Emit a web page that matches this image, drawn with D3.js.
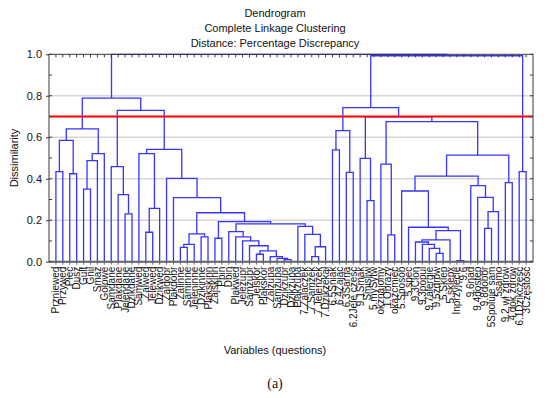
<!DOCTYPE html>
<html><head><meta charset="utf-8">
<script src="https://cdn.jsdelivr.net/npm/d3@7"></script>
<style>body{margin:0;background:#fff}svg{display:block}</style>
</head><body>
<script>
// ---------- data ----------
const titleLines = ["Dendrogram", "Complete Linkage Clustering", "Distance: Percentage Discrepancy"];
const xAxisTitle = "Variables (questions)";
const yAxisTitle = "Dissimilarity";
const panelLabel = "(a)";
const yTicks = [0, 0.2, 0.4, 0.6, 0.8, 1.0];
const yMinorTicks = [0.1, 0.3, 0.5, 0.7, 0.9];
const cutHeight = 0.7;

const leafLabels = [
  "Przniewed","Przywed","Płeć","Dusz","Gult","Gnil","Smaż","Golowe",
  "Samdane","Plakdane","Jeleńdane","Dzikdane","Samwed","Zalwed","Jelewed","Dzikwed",
  "Zaldobr","Plakdobr","Zalinne","Saminne","Jeleninne","Dzikinne","Plakskinn","Zajskinn",
  "Pbin","Dbin","Plakwed","Jeleżupr","Samżupr","Jelskór","Plakskór","Zalzupa",
  "Samzupa","Dzikżupr","Dzikzupa","Plakzupa","7.Zalaczek","7.Samzek","7.Jeleńzek","7.Dzikzekał",
  "6.5Śniak","6.4Zając","6.3Sarna","6.2Jele cześć","9.1Smak","Smisliw","5.mySytw","okznajomy",
  "1.Obrazy","okazcmiec","5.Sposób","5.spec","9.3Clon","9.3popul","9.7alergie","9.5zdrow",
  "5.Sklep","5.sklepx","Inprzyjęcie","9.6","9.6nad","9.4dostęp","9.8dobór","5Spoluje sam",
  "5samo","9.2 wł zdrow","4.dok zdrow","6.1Dzikczęść","3Częstość"
];

// merges: [left, right, height]; numbers = leaf index, "mK" = K-th merge
const merges = [
  [0, 1, 0.434], [2, 3, 0.424], ["m0", "m1", 0.585], [4, 5, 0.350],
  ["m3", 6, 0.487], ["m4", 7, 0.521], ["m2", "m5", 0.640], [10, 11, 0.231],
  [9, "m7", 0.323], [8, "m8", 0.458], [13, 14, 0.142], ["m10", 15, 0.257],
  [12, "m11", 0.521], [18, 19, 0.069], ["m13", 20, 0.084], [21, 22, 0.120],
  ["m14", "m15", 0.134], [23, 24, 0.113], [33, 34, 0.010], [32, "m18", 0.016],
  [31, "m19", 0.024], [29, 30, 0.036], ["m21", "m20", 0.052], [28, "m22", 0.077],
  [27, "m23", 0.100], [26, "m24", 0.120], [25, "m25", 0.145], [37, 38, 0.024],
  ["m27", 39, 0.072], [36, "m28", 0.132], [35, "m29", 0.170], ["m26", "m30", 0.182],
  ["m17", "m31", 0.193], ["m16", "m32", 0.236], [17, "m33", 0.309], [16, "m34", 0.402],
  ["m12", "m35", 0.542], ["m9", "m36", 0.730], ["m6", "m37", 0.789],
  [40, 41, 0.539], [42, 43, 0.431], ["m39", "m40", 0.632], [45, 46, 0.294],
  [44, "m42", 0.498], [48, 49, 0.129], [47, "m44", 0.470], [55, 56, 0.040],
  [54, "m46", 0.064], [53, "m47", 0.084], [52, "m48", 0.095], ["m49", 57, 0.105],
  [58, 59, 0.005], ["m50", "m51", 0.150], [51, "m52", 0.166], [50, "m53", 0.341],
  [62, 63, 0.161], ["m55", 64, 0.241], [61, "m56", 0.310], [60, "m57", 0.367],
  ["m54", "m58", 0.413], [65, 66, 0.381], ["m59", "m60", 0.514], ["m45", "m61", 0.675],
  ["m43", "m62", 0.699], ["m41", "m63", 0.743], [67, 68, 0.434], ["m64", "m65", 0.993],
  ["m38", "m66", 1.000]
];

// ---------- layout ----------
const W = 550, H = 398;
const plot = {l: 49, r: 533, t: 54.3, b: 261.7};
const font = "'Liberation Sans', Arial, sans-serif";
const blue = "#3535ff";

const svg = d3.select("body").append("svg").attr("width", W).attr("height", H);

const x = d3.scalePoint().domain(d3.range(leafLabels.length)).range([plot.l, plot.r]).padding(1);
const y = d3.scaleLinear().domain([0, 1]).range([plot.b, plot.t]);

// titles
svg.append("g").selectAll("text").data(titleLines).join("text")
  .attr("x", W / 2).attr("y", (d, i) => 17 + i * 14.8)
  .attr("text-anchor", "middle").attr("font-family", font).attr("font-size", 11)
  .attr("fill", "#111").text(d => d);

// gridlines
svg.append("g").selectAll("line").data(yTicks.filter(v => v > 0 && v < 1)).join("line")
  .attr("x1", plot.l).attr("x2", plot.r).attr("y1", d => y(d)).attr("y2", d => y(d))
  .attr("stroke", "#d6d6d6").attr("stroke-width", 1.5);

// dendrogram
const nodePos = [];
function resolve(ref) {
  if (typeof ref === "number") return {x: x(ref), h: 0};
  return nodePos[+ref.slice(1)];
}
const segs = [];
merges.forEach(([a, b, h]) => {
  const A = resolve(a), B = resolve(b);
  segs.push({A, B, h});
  nodePos.push({x: (A.x + B.x) / 2, h});
});
svg.append("g").attr("fill", "none").attr("stroke", blue).attr("stroke-width", 1.3)
  .selectAll("path").data(segs).join("path")
  .attr("d", s => `M${s.A.x},${y(s.A.h)}V${y(s.h)}H${s.B.x}V${y(s.B.h)}`);

// cut line
svg.append("line").attr("x1", plot.l).attr("x2", plot.r)
  .attr("y1", y(cutHeight)).attr("y2", y(cutHeight))
  .attr("stroke", "#ff0000").attr("stroke-width", 2);

// frame
const frame = svg.append("g");
frame.append("rect").attr("x", plot.l).attr("y", plot.t)
  .attr("width", plot.r - plot.l).attr("height", plot.b - plot.t)
  .attr("fill", "none").attr("stroke", "#3a3a3a").attr("stroke-width", 1);
frame.append("line").attr("x1", plot.l).attr("x2", plot.r).attr("y1", plot.b).attr("y2", plot.b)
  .attr("stroke", "#666").attr("stroke-width", 2);

// y axis (left) with labels
const yAxis = d3.axisLeft(y).tickValues(yTicks).tickFormat(d3.format(".1f")).tickSize(3).tickPadding(4);
const gy = svg.append("g").attr("transform", `translate(${plot.l},0)`).call(yAxis);
gy.select(".domain").remove();
gy.selectAll("text").attr("font-family", font).attr("font-size", 11).attr("fill", "#111");
gy.selectAll("line").attr("stroke", "#3a3a3a");
// minor inner ticks left and right
const allTicks = yTicks.concat(yMinorTicks);
svg.append("g").selectAll("line").data(allTicks).join("line")
  .attr("x1", plot.l).attr("x2", plot.l + 3).attr("y1", d => y(d)).attr("y2", d => y(d))
  .attr("stroke", "#3a3a3a");
svg.append("g").selectAll("line").data(allTicks).join("line")
  .attr("x1", plot.r).attr("x2", plot.r - 3).attr("y1", d => y(d)).attr("y2", d => y(d))
  .attr("stroke", "#3a3a3a");
// top and bottom leaf ticks
svg.append("g").selectAll("line").data(d3.range(leafLabels.length)).join("line")
  .attr("x1", d => x(d)).attr("x2", d => x(d)).attr("y1", plot.t).attr("y2", plot.t + 3)
  .attr("stroke", "#3a3a3a");
svg.append("g").selectAll("line").data(d3.range(leafLabels.length)).join("line")
  .attr("x1", d => x(d)).attr("x2", d => x(d)).attr("y1", plot.b).attr("y2", plot.b + 3)
  .attr("stroke", "#666");

// leaf labels
svg.append("g").selectAll("text").data(leafLabels).join("text")
  .attr("transform", (d, i) => `translate(${x(i)},${plot.b + 5}) rotate(-90)`)
  .attr("text-anchor", "end").attr("dy", "0.35em")
  .attr("font-family", font).attr("font-size", 10).attr("fill", "#111")
  .text(d => d);

// axis titles
svg.append("text").attr("x", 275).attr("y", 354).attr("text-anchor", "middle")
  .attr("font-family", font).attr("font-size", 11).attr("fill", "#111").text(xAxisTitle);
svg.append("text").attr("transform", `translate(18,158) rotate(-90)`).attr("text-anchor", "middle")
  .attr("font-family", font).attr("font-size", 11).attr("fill", "#111").text(yAxisTitle);
svg.append("text").attr("x", 275).attr("y", 388).attr("text-anchor", "middle")
  .attr("font-family", "'Liberation Serif', 'Times New Roman', serif").attr("font-size", 14)
  .attr("fill", "#111").text(panelLabel);
</script>
</body></html>
